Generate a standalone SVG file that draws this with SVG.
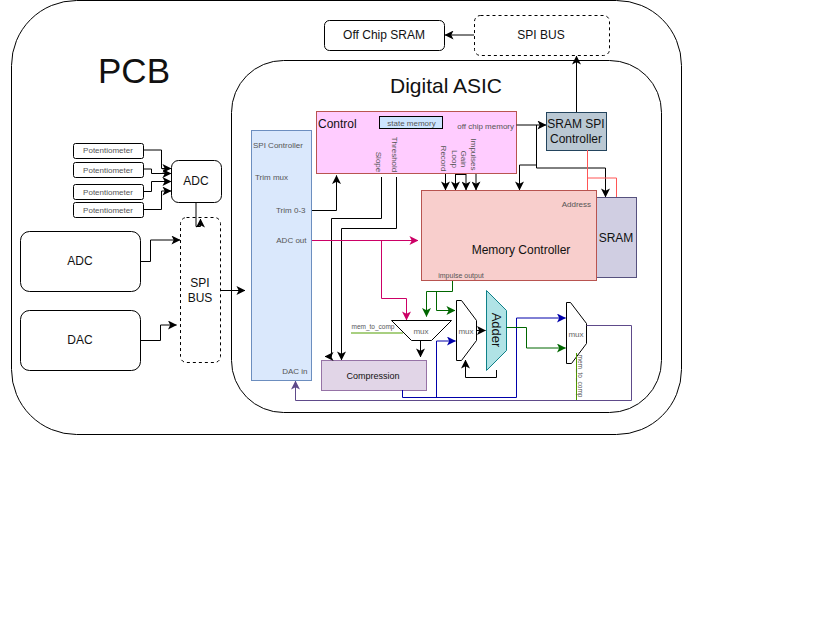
<svg xmlns="http://www.w3.org/2000/svg" width="821" height="623" viewBox="0 0 821 623">
<defs>
<marker id="a" viewBox="0 0 10 10" refX="9.500" refY="5" markerWidth="9" markerHeight="9" markerUnits="userSpaceOnUse" orient="auto"><path d="M0 0L10 5L0 10L2.500 5Z" fill="context-stroke"/></marker>
</defs>
<style>
text{font-family:"Liberation Sans",Arial,sans-serif;fill:#111;text-anchor:middle}
.s{fill:#fff;stroke:#000;stroke-width:1}
.c{fill:none;stroke:#000;stroke-width:1;marker-end:url(#a)}
.n{fill:none;stroke:#000;stroke-width:1}
.l{font-size:8px;fill:#555}
.t{font-size:7px;fill:#555}
.m{font-size:8px;fill:#666}
.e{text-anchor:end}
.st{text-anchor:start}
.g{stroke:#060;fill:none;marker-end:url(#a)}
.b{stroke:#00a;fill:none;marker-end:url(#a)}
.p{stroke:#c06;fill:none;marker-end:url(#a)}
</style>
<rect width="821" height="623" fill="#fff"/>
<g id="pcb"><rect class="s" x="11.500" y="0.500" width="670" height="434" rx="65"/><text x="134" y="83" font-size="35">PCB</text></g>
<g id="asic"><rect class="s" x="231.500" y="60.500" width="430" height="352" rx="52"/><text x="446" y="93" font-size="21">Digital ASIC</text></g>
<g id="offchip"><rect class="s" x="324.500" y="20.500" width="120" height="30" rx="5"/><text x="384" y="39" font-size="12">Off Chip SRAM</text></g>
<g id="spibus-top"><rect class="s" x="474.500" y="15.500" width="135" height="40" rx="6" stroke-dasharray="3 3"/><text x="541" y="39" font-size="12">SPI BUS</text></g>
<g id="spi-controller"><rect x="251.500" y="130.500" width="60" height="250" fill="#dae8fc" stroke="#6c8ebf"/>
<text class="l st" x="253" y="148">SPI Controller</text>
<text class="l st" x="255" y="180">Trim mux</text>
<text class="l e" x="305.500" y="213">Trim 0-3</text>
<text class="l e" x="306.500" y="243">ADC out</text>
<text class="l e" x="307.500" y="374">DAC  in</text></g>
<g id="control"><rect x="316.500" y="111.500" width="200" height="62" fill="#fcf" stroke="#b85450"/>
<text x="318" y="128" font-size="12" class="st">Control</text>
<text class="l e" x="514" y="129">off chip memory</text>
<text class="l" transform="translate(376 162) rotate(90)">Slope</text>
<text class="l" transform="translate(392 154.500) rotate(90)">Threshold</text>
<text class="l" transform="translate(441 158.500) rotate(90)">Record</text>
<text class="l" transform="translate(452 159) rotate(90)">Loop</text>
<text class="l" transform="translate(461 159) rotate(90)">Gain</text>
<text class="l" transform="translate(471 154.500) rotate(90)">Impulses</text></g>
<g id="state-memory"><rect x="379.500" y="116.500" width="63" height="12" fill="#cce5ff" stroke="#000"/><text class="l" x="411.500" y="126">state memory</text></g>
<g id="sram"><rect x="596.500" y="197.500" width="40" height="80" fill="#d0cee2" stroke="#56517e"/><text x="616" y="242" font-size="12">SRAM</text></g>
<g id="sram-spi"><rect x="546.500" y="112.500" width="60" height="38" fill="#bac8d3" stroke="#23445d"/><text x="576" y="128" font-size="12">SRAM SPI</text><text x="576" y="143" font-size="12">Controller</text></g>
<g id="memory-controller"><rect x="421.500" y="190.500" width="175" height="90" fill="#f8cecc" stroke="#b85450"/>
<text class="l e" x="591" y="207">Address</text>
<text x="521" y="254" font-size="12">Memory Controller</text>
<text class="t" x="461" y="278">impulse output</text></g>
<g id="compression"><rect x="321.500" y="360.500" width="105" height="30" fill="#e1d5e7" stroke="#9673a6"/><text x="373" y="379" font-size="9">Compression</text></g>
<g id="mux1"><path class="s" d="M391.500 320.500H451.500L431.500 340.500H411.500Z"/><text class="m" x="421" y="334">mux</text></g>
<g id="mux2"><path class="s" d="M456.500 300.500H461.500L476.500 320.500V340.500L461.500 360.500H456.500Z"/><text class="m" x="466" y="334">mux</text></g>
<g id="adder"><path d="M486.500 290.500L506.500 310.500V350.500L486.500 370.500Z" fill="#b0e3e6" stroke="#0e8088"/><text transform="translate(491.500 330) rotate(90)" font-size="13">Adder</text></g>
<g id="mux3"><path class="s" d="M566.500 302.500H570.500L586.500 323.500V343.500L571.500 363.500H566.500Z"/><text class="m" x="576" y="337">mux</text></g>
<g id="pot1"><rect class="s" x="73.500" y="143.500" width="70" height="15" rx="2"/><text class="l" x="108" y="153">Potentiometer</text></g>
<g id="pot2"><rect class="s" x="73.500" y="162.500" width="70" height="15" rx="2"/><text class="l" x="108" y="173">Potentiometer</text></g>
<g id="pot3"><rect class="s" x="73.500" y="184.500" width="70" height="15" rx="2"/><text class="l" x="108" y="195">Potentiometer</text></g>
<g id="pot4"><rect class="s" x="73.500" y="202.500" width="70" height="15" rx="2"/><text class="l" x="108" y="213">Potentiometer</text></g>
<g id="adc-small"><rect class="s" x="171.500" y="160.500" width="50" height="42" rx="7"/><text x="196" y="185" font-size="12">ADC</text></g>
<g id="adc"><rect class="s" x="20.500" y="231.500" width="120" height="60" rx="9"/><text x="80" y="265" font-size="12">ADC</text></g>
<g id="dac"><rect class="s" x="20.500" y="310.500" width="120" height="60" rx="9"/><text x="80" y="344" font-size="12">DAC</text></g>
<g id="spibus"><rect class="s" x="180.500" y="217.500" width="40" height="145" rx="6" stroke-dasharray="3 3"/><text x="200" y="287" font-size="12">SPI</text><text x="200" y="302" font-size="12">BUS</text></g>
<g id="connectors">
<path class="c" d="M474 35H445"/>
<path class="c" d="M576.500 112V56"/>
<path class="c" d="M516.500 125H546"/>
<path class="c" d="M536.500 125V168H605.500V197"/>
<path class="c" d="M536.500 165H519.500V190"/>
<path d="M587.500 150V190M587 178H616.500V197" fill="none" stroke="#f55"/>
<path class="c" d="M445.500 174V190"/>
<path class="c" d="M455.500 174V190"/>
<path class="c" d="M466 174V190"/>
<path class="c" d="M476 174V190"/>
<path class="n" d="M455.500 174.500H466"/>
<path class="c" d="M381.500 177V218.500H331.500V356.500H325"/>
<path class="c" d="M396.500 177V228.500H341.500V360"/>
<path class="c" d="M312 210.500H336.500V175.500"/>
<path class="p" d="M312 240.500H418"/>
<path class="p" d="M381.500 240.500V298.500H406.500V320"/>
<path class="g" d="M452.500 281V291.500H426.500V316.500"/>
<path class="g" d="M436.500 291.500V310.500H455"/>
<path class="c" d="M420.500 340V357"/>
<path class="b" d="M402.500 390V397.500H516.500V318H565.500"/>
<path class="b" d="M436.500 397.500V341H455.500"/>
<path class="c" d="M476.500 330.500H485.500"/>
<path class="c" d="M496.500 370V377.500H465.500V360"/>
<path class="g" d="M506.500 327.500H526.500V348H565.500"/>
<path class="c" style="stroke:#5e4a8a" d="M586.500 325.500H631.500V400.500H295.500V381"/>
<path d="M351 333H403" fill="none" stroke="#8bbf56" stroke-width="1.500"/>
<path d="M576.500 353V400" fill="none" stroke="#4d9900"/>
<path class="c" d="M143 150H161.500V168.500H171"/>
<path class="c" d="M143 169H151.500V173.500H171"/>
<path class="c" d="M143 191.500H151.500V181.500H171"/>
<path class="c" d="M143 209.500H161.500V191H171"/>
<path class="c" d="M196 203V226.500H200.500V219"/>
<path class="c" d="M140 261.500H150.500V240H180"/>
<path class="c" d="M140 340.500H160.500V325H176.500"/>
<path class="c" d="M220 290.500H245"/>
</g>
<text class="t" x="373" y="329" style="font-size:6.500px">mem_to_comp</text>
<text class="t" transform="translate(578 376) rotate(90)" style="font-size:6.500px">mem_to_comp</text>
</svg>
